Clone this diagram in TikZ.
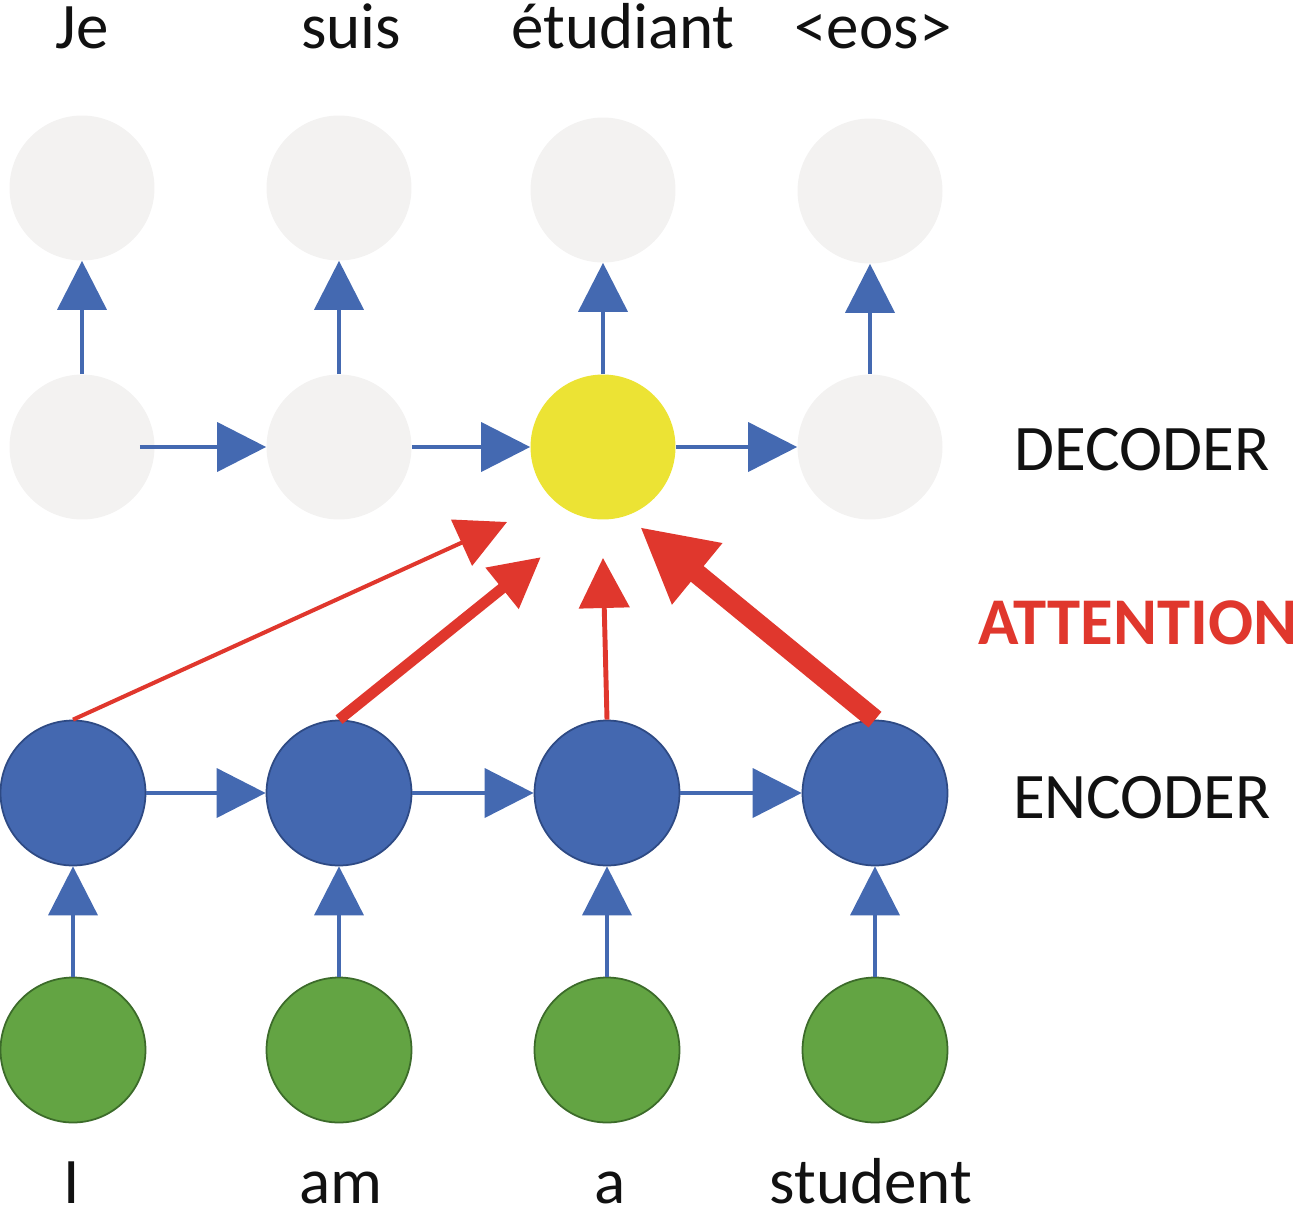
\documentclass[tikz,border=0pt]{standalone}
\usepackage{fontspec}
\setmainfont{Carlito}
\usetikzlibrary{arrows.meta}
\definecolor{cgray}{HTML}{F3F2F1}
\definecolor{cyellow}{HTML}{ECE334}
\definecolor{cblue}{HTML}{4468B0}
\definecolor{cblueline}{HTML}{2E4A84}
\definecolor{cgreen}{HTML}{63A443}
\definecolor{cgreenline}{HTML}{3C6B2A}
\definecolor{carrow}{HTML}{4469B1}
\definecolor{cred}{HTML}{E0372D}
\definecolor{ctext}{HTML}{111111}
\begin{document}
\begin{tikzpicture}[x=0.02cm,y=-0.02cm,
  cnode/.style={circle, minimum size=2.9cm, inner sep=0pt},
  outnode/.style={cnode, fill=cgray},
  decnode/.style={cnode, fill=cgray},
  attnode/.style={cnode, fill=cyellow},
  encnode/.style={cnode, fill=cblue, draw=cblueline, line width=1pt},
  innode/.style={cnode, fill=cgreen, draw=cgreenline, line width=1pt},
  word/.style={anchor=base, inner sep=0pt, text=ctext, font=\fontsize{37}{44}\selectfont},
  side/.style={anchor=base, inner sep=0pt, text=ctext, font=\fontsize{37}{44}\selectfont},
  attlbl/.style={anchor=base, inner sep=0pt, text=cred, font=\fontsize{38}{44}\selectfont\bfseries},
  barrow/.style={draw=carrow, line width=2.2pt, -{Triangle[length=0.98cm,width=0.98cm]}},
  rarrow/.style={draw=cred, -{Triangle[length=1cm,width=1cm]}},
]
\useasboundingbox (0,0) rectangle (1300,1217);

% output row
\node[outnode] (o1) at (82,188) {};
\node[outnode] (o2) at (339,188) {};
\node[outnode] (o3) at (603,190) {};
\node[outnode] (o4) at (870,191) {};
% decoder row
\node[decnode] (d1) at (82,447) {};
\node[decnode] (d2) at (339,447) {};
\node[attnode] (d3) at (603,447) {};
\node[decnode] (d4) at (870,447) {};
% encoder row
\node[encnode] (e1) at (73,793) {};
\node[encnode] (e2) at (339,793) {};
\node[encnode] (e3) at (607,793) {};
\node[encnode] (e4) at (875,793) {};
% input row
\node[innode] (i1) at (73,1050) {};
\node[innode] (i2) at (339,1050) {};
\node[innode] (i3) at (607,1050) {};
\node[innode] (i4) at (875,1050) {};

% words
\node[word] (w1) at (82,48) {Je};
\node[word] (w2) at (351,48) {suis};
\node[word] (w3) at (623,48) {étudiant};
\node[word] (w4) at (873,48) {<eos>};
\node[word] (v1) at (72,1203) {I};
\node[word] (v2) at (341,1203) {am};
\node[word] (v3) at (610,1203) {a};
\node[word] (v4) at (871,1203) {student};

\node[side] (dec) at (1142,470) {DECODER};
\node[attlbl] (att) at (1138,644) {ATTENTION};
\node[side] (enc) at (1142,818) {ENCODER};

% decoder to output
\draw[barrow] (d1.north) -- (o1.south);
\draw[barrow] (d2.north) -- (o2.south);
\draw[barrow] (d3.north) -- (o3.south);
\draw[barrow] (d4.north) -- (o4.south);
% decoder chain
\draw[barrow, shorten <=-0.3cm] (d1.east) -- (d2.west);
\draw[barrow] (d2.east) -- (d3.west);
\draw[barrow] (d3.east) -- (d4.west);
% encoder chain
\draw[barrow] (e1.east) -- (e2.west);
\draw[barrow] (e2.east) -- (e3.west);
\draw[barrow] (e3.east) -- (e4.west);
% input to encoder
\draw[barrow] (i1.north) -- (e1.south);
\draw[barrow] (i2.north) -- (e2.south);
\draw[barrow] (i3.north) -- (e3.south);
\draw[barrow] (i4.north) -- (e4.south);

% attention arrows
\coordinate (t1) at (507,522);
\coordinate (t2) at (541,557);
\coordinate (t3) at (603,558);
\coordinate (t4) at (640,527);
\draw[rarrow, line width=2.3pt] (e1.north) -- (t1);
\draw[rarrow, line width=6.2pt] (e2.north) -- (t2);
\draw[rarrow, line width=2.8pt] (e3.north) -- (t3);
\draw[draw=cred, line width=11.5pt, -{Triangle[length=1.48cm,width=1.48cm]}] (e4.north) -- (t4);
\end{tikzpicture}
\end{document}
